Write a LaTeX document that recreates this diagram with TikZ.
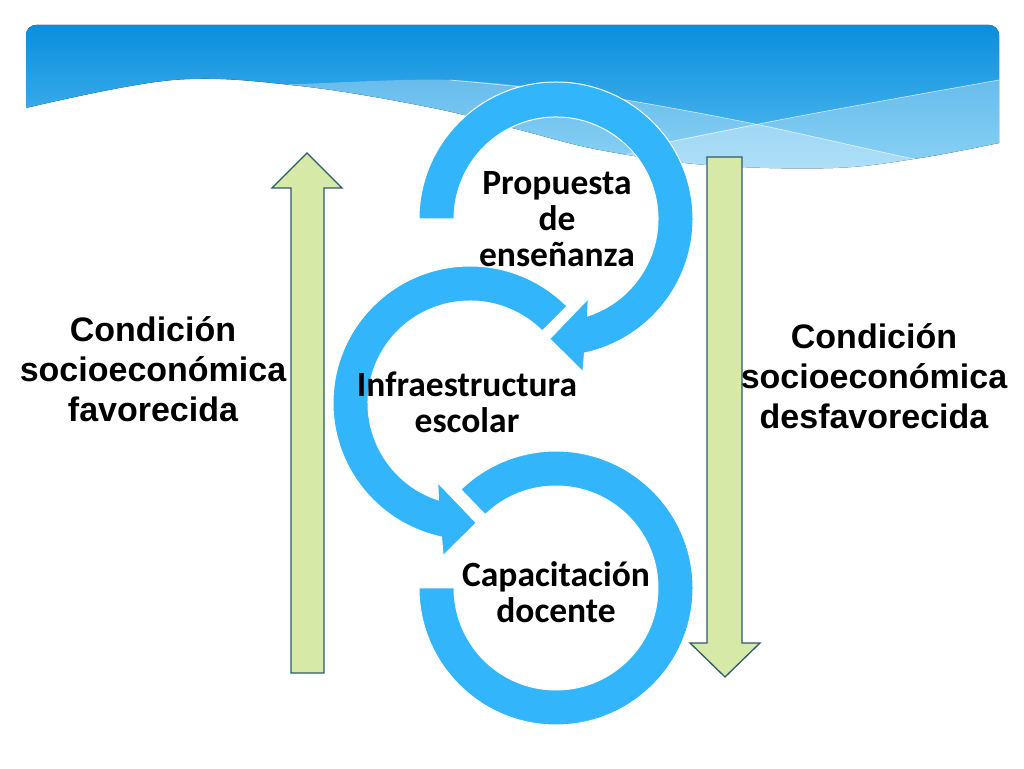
\documentclass[tikz,border=0pt]{standalone}
\usepackage{fontspec}
\setmainfont{Liberation Sans}
\newfontfamily\carlitofont{Carlito}
\definecolor{arcblue}{RGB}{51,181,252}
\definecolor{arrowgreen}{RGB}{215,233,166}
\definecolor{arrowedge}{RGB}{47,90,105}
\definecolor{bannertop}{RGB}{10,142,221}
\definecolor{bannerbot}{RGB}{88,190,241}
\begin{document}
\begin{tikzpicture}[x=1pt,y=1pt,
  ringshape/.style={fill=arcblue, draw=white, line width=1pt},
  greenarrow/.style={fill=arrowgreen, draw=arrowedge, line width=1.3pt, line join=miter},
  labelc/.style={font=\carlitofont\bfseries\fontsize{35.5}{36}\selectfont, align=center, inner sep=0pt},
  labela/.style={font=\bfseries\fontsize{34}{40}\selectfont, align=center, inner sep=0pt},
  waveline/.style={white, opacity=0.7, line width=0.6pt}]
\useasboundingbox (0,0) rectangle (1024,768);
\fill[white] (0,0) rectangle (1024,768);
\def\bannerpath{(26,660) -- (26,733) arc[start angle=180,end angle=90,radius=10] -- (989,743) arc[start angle=90,end angle=0,radius=10] -- (999,625) -- plot[smooth, tension=0.6] coordinates {(999,625) (920,610) (833,600) (707,603) (600,618) (520,638) (433,660) (300,682) (173,688) (26,660)} -- cycle}
\fill[top color=bannertop, bottom color=bannerbot] \bannerpath;
\begin{scope}
  \clip \bannerpath;
  \fill[white,opacity=0.3] plot[smooth] coordinates {(250,683) (300,684) (450,688) (600,672) (750,645) (900,612) (1010,590)} -- (1010,560) -- (250,560) -- cycle;
  \fill[white,opacity=0.3] plot[smooth] coordinates {(600,600) (650,622) (800,652) (1010,690)} -- (1010,560) -- (600,560) -- cycle;
  \draw[waveline] plot[smooth] coordinates {(450,688) (600,672) (750,645) (900,612) (1010,590)};
  \draw[waveline] plot[smooth] coordinates {(650,622) (800,652) (1010,690)};
\end{scope}
% top arc
\begin{scope}[shift={(556,549)}]
  \path[ringshape] (180:102) -- (180:137) arc[start angle=180, end angle=-78, radius=137] -- (-80:155) -- (-93:120) -- (-68:86) -- (-72:102) arc[start angle=-72, end angle=180, radius=102] -- cycle;
\end{scope}
% middle arc
\begin{scope}[shift={(470,365)}]
  \path[ringshape] (45:102) -- (45:137) arc[start angle=45, end angle=258, radius=137] -- (260:155) -- (273:120) -- (248:86) -- (252:102) arc[start angle=252, end angle=45, radius=102] -- cycle;
\end{scope}
% bottom ring
\begin{scope}[shift={(556,180)}]
  \path[ringshape] (180:102) -- (180:137) arc[start angle=180, end angle=494, radius=137] -- (494:102) arc[start angle=494, end angle=180, radius=102] -- cycle;
\end{scope}
% green arrows
\path[greenarrow] (291,95) -- (291,580) -- (272,580) -- (307,615) -- (342,580) -- (324,580) -- (324,95) -- cycle;
\path[greenarrow] (707,611) -- (707,125) -- (690,125) -- (725,91) -- (760,125) -- (742,125) -- (742,611) -- cycle;
% labels
\node[labelc] (prop) at (557,549) {Propuesta\\de\\enseñanza};
\node[labelc] (infra) at (467,366) {Infraestructura\\escolar};
\node[labelc] (capa) at (556,176) {Capacitación\\docente};
\node[labela] (fav) at (153,399) {Condición\\socioeconómica\\favorecida};
\node[labela] (desfav) at (874,392) {Condición\\socioeconómica\\desfavorecida};
\end{tikzpicture}
\end{document}
